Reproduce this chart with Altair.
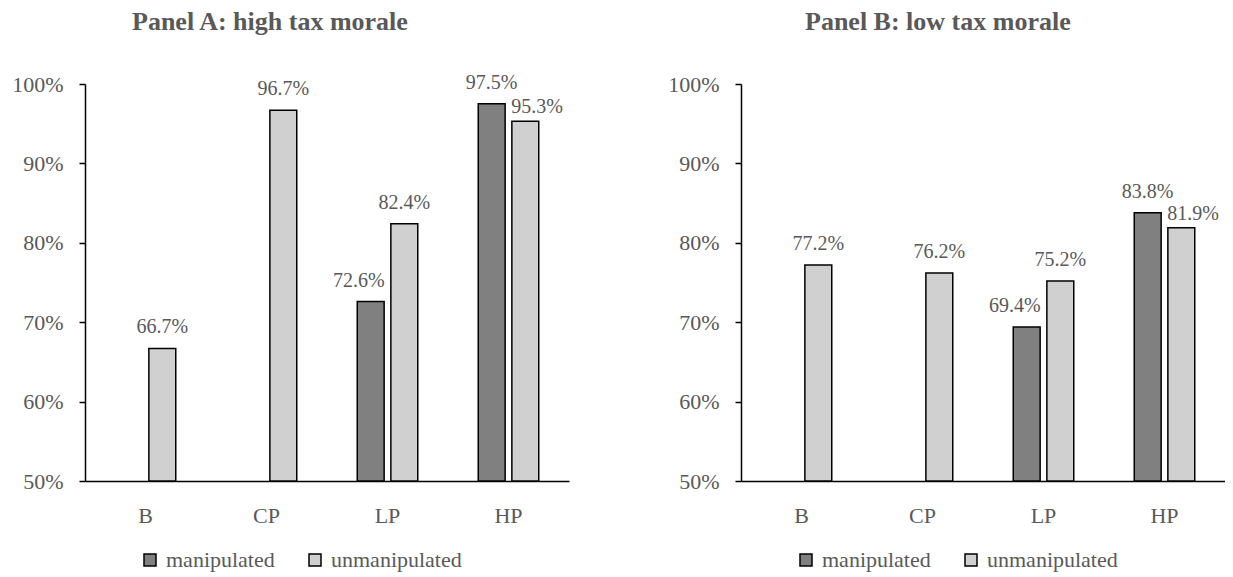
import altair as alt
import pandas as pd

# ---- data ----
categories = ["B", "CP", "LP", "HP"]
series = ["manipulated", "unmanipulated"]

panel_a_manipulated = [None, None, 0.726, 0.975]
panel_a_unmanipulated = [0.667, 0.967, 0.824, 0.953]

panel_b_manipulated = [None, None, 0.694, 0.838]
panel_b_unmanipulated = [0.772, 0.762, 0.752, 0.819]

y_ticks = [0.5, 0.6, 0.7, 0.8, 0.9, 1.0]

SERIF = "Liberation Serif"
GRAY = "#595959"
COLORS = ["#808080", "#d0d0d0"]


def make_df(manip, unmanip):
    rows = []
    for cat, m, u in zip(categories, manip, unmanip):
        if m is not None:
            rows.append({"category": cat, "series": series[0], "value": m})
        if u is not None:
            rows.append({"category": cat, "series": series[1], "value": u})
    return pd.DataFrame(rows)


def panel(df, title, title_dx):
    base = alt.Chart(df).encode(
        x=alt.X(
            "category:N",
            sort=categories,
            scale=alt.Scale(paddingInner=0.5, paddingOuter=0.25),
            axis=alt.Axis(
                title=None, labelAngle=0, ticks=False, tickSize=0,
                labelPadding=24, labelFontSize=22, labelFont=SERIF,
                labelColor=GRAY, domainColor="black", domainWidth=1.5,
            ),
        ),
        xOffset=alt.XOffset(
            "series:N", scale=alt.Scale(domain=series, paddingInner=0.2)
        ),
        y=alt.Y(
            "value:Q",
            scale=alt.Scale(domain=[0.5, 1.0], zero=False, nice=False),
            axis=alt.Axis(
                title=None, format=".0%", values=y_ticks, grid=False,
                tickSize=6, tickColor="black", tickWidth=1.5,
                domainColor="black", domainWidth=1.5,
                labelPadding=16, labelFontSize=22, labelFont=SERIF,
                labelColor=GRAY,
            ),
        ),
    )
    bars = base.mark_bar(stroke="black", strokeWidth=1.5).encode(
        y2=alt.datum(0.5),
        color=alt.Color(
            "series:N",
            scale=alt.Scale(domain=series, range=COLORS),
            legend=alt.Legend(
                orient="none", legendX=54, legendY=465,
                direction="horizontal", title=None,
                symbolType="square", symbolSize=144,
                symbolStrokeColor="black", symbolStrokeWidth=1.5,
                symbolOpacity=1,
                labelFont=SERIF, labelFontSize=22, labelColor=GRAY,
                labelOffset=5, columnPadding=29, padding=0,
            ),
        ),
    )
    label_text = alt.Text("value:Q", format=".1%")
    is_lp_manip = "datum.category == 'LP' && datum.series == 'manipulated'"
    is_hp_unmanip = "datum.category == 'HP' && datum.series == 'unmanipulated'"
    text_center = base.transform_filter(
        f"!({is_lp_manip}) && !({is_hp_unmanip})"
    ).mark_text(
        baseline="alphabetic", dy=-15, fontSize=20, font=SERIF, color=GRAY
    ).encode(text=label_text)
    text_left_of_bar = base.transform_filter(is_lp_manip).mark_text(
        baseline="alphabetic", align="right", dx=14, dy=-15,
        fontSize=20, font=SERIF, color=GRAY,
    ).encode(text=label_text)
    text_right_of_bar = base.transform_filter(is_hp_unmanip).mark_text(
        baseline="alphabetic", align="left", dx=-14, dy=-8,
        fontSize=20, font=SERIF, color=GRAY,
    ).encode(text=label_text)
    return alt.layer(bars, text_center, text_left_of_bar, text_right_of_bar).properties(
        width=484,
        height=397,
        title=alt.TitleParams(
            title, anchor="start", frame="group", dx=title_dx,
            font=SERIF, fontSize=26, fontWeight="bold", color=GRAY,
            offset=38,
        ),
    )


chart_a = panel(make_df(panel_a_manipulated, panel_a_unmanipulated),
                "Panel A: high tax morale", 47)
chart_b = panel(make_df(panel_b_manipulated, panel_b_unmanipulated),
                "Panel B: low tax morale", 64)

chart = (
    alt.hconcat(chart_a, chart_b, spacing=98)
    .resolve_scale(color="independent")
    .resolve_legend(color="independent")
    .configure_view(stroke=None)
    .properties(padding={"left": 3, "top": 0, "right": 0, "bottom": 2})
)

chart.save("out.html", embed_options={"renderer": "svg", "actions": False})
